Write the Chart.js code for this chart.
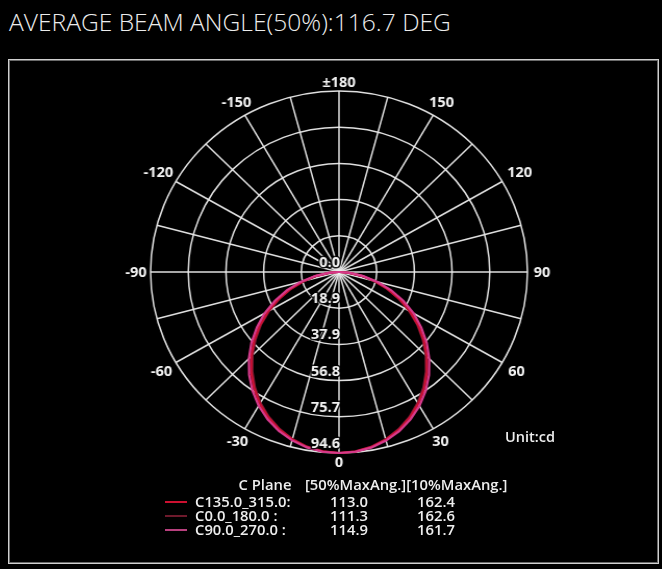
<!DOCTYPE html>
<html>
<head>
<meta charset="utf-8">
<script src="https://cdn.jsdelivr.net/npm/chart.js@4.4.1/dist/chart.umd.min.js"></script>
<style>
  html, body { margin: 0; padding: 0; background: #000; }
  #page { position: relative; width: 662px; height: 569px; overflow: hidden; background: #000; font-family: 'Open Sans', sans-serif; }
  #title { position: absolute; left: 9px; top: 5px; color: #ececec; font-size: 24.6px; font-weight: 300; white-space: nowrap; }
  #frame { position: absolute; left: 8px; top: 59px; width: 649px; height: 503px; border: 1px solid #d0d0d0; box-shadow: inset 0 0 0 1px #6a6a6a; }
  #wrap { position: absolute; left: 0; top: 0; width: 662px; height: 569px; transform-origin: 339px 272px; transform: scaleX(1.041); }
  .t { position: absolute; color: #eeeeee; font-weight: 600; font-size: 14.8px; line-height: 14px; white-space: nowrap; }
  .swatch { position: absolute; height: 1.5px; width: 22px; }
</style>
</head>
<body>
<div id="page">
  <div id="title">AVERAGE BEAM ANGLE(50%):116.7 DEG</div>
  <div id="frame"></div>
  <div id="wrap"><canvas id="polar" width="662" height="569"></canvas></div>
  <div class="t" style="left:505px; top:430px; font-size:14.5px;">Unit:cd</div>
  <div id="table"></div>
</div>
<script>
// gamma angles, clockwise from the top of the diagram (index 0 = ±180)
const gammaAngles = Array.from({ length: 72 }, (_, i) => 180 - i * 5);

// radial rings (cd)
const radialTicks = [0, 18.92, 37.84, 56.76, 75.68, 94.6];
const radialTickLabels = ['0.0', '18.9', '37.9', '56.8', '75.7', '94.6'];

// intensity, gamma 0..90 in 5 deg steps
const c135Right = [94.6, 94.2, 92.9, 90.7, 87.8, 84.1, 79.6, 74.5, 68.7, 62.4, 55.7, 48.6, 41.2, 33.6, 26.1, 18.7, 11.6, 5.1, 0.3];
const c135Left  = [94.6, 94.1, 92.8, 90.6, 87.6, 83.9, 79.5, 74.3, 68.6, 62.3, 55.6, 48.5, 41.1, 33.5, 26.0, 18.6, 11.5, 5.0, 0.3];
const c0Right   = [94.6, 94.1, 92.8, 90.5, 87.4, 83.6, 79.0, 73.8, 67.9, 61.6, 54.9, 48.0, 40.6, 33.1, 25.7, 18.4, 11.5, 5.1, 0.3];
const c0Left    = [94.6, 94.1, 92.7, 90.4, 87.3, 83.5, 78.9, 73.6, 67.7, 61.4, 54.7, 47.8, 40.4, 33.0, 25.6, 18.3, 11.4, 5.0, 0.3];
const c90Right  = [94.6, 94.3, 93.2, 91.2, 88.5, 85.0, 80.8, 75.9, 70.3, 64.1, 57.5, 50.4, 43.3, 35.6, 27.9, 20.1, 12.4, 5.5, 0.3];
const c90Left   = [94.6, 94.3, 93.1, 91.1, 88.4, 84.9, 80.7, 75.8, 70.2, 64.0, 57.4, 50.3, 43.2, 35.5, 27.8, 20.0, 12.3, 5.4, 0.3];

// legend table
const planeNames = ['C135.0_315.0:', 'C0.0_180.0  :', 'C90.0_270.0 :'];
const beam50 = ['113.0', '111.3', '114.9'];
const beam10 = ['162.4', '162.6', '161.7'];
const planeColors = ['#cc1030', '#6e1a2c', '#b8407e'];
const curveColors = ['#cc1034', '#7a1a30', '#d63a8c'];

function planeSeries(right, left) {
    return gammaAngles.map(g => {
        if (g >= 0 && g <= 90) return right[g / 5];
        if (g < 0 && g >= -90) return left[-g / 5];
        return 0;
    });
}

const gridColor = 'rgba(235,235,235,0.95)';

const polarLabels = {
    id: 'polarLabels',
    afterDatasetsDraw(chart) {
        const r = chart.scales.r;
        const ctx = chart.ctx;
        ctx.save();
        ctx.font = 'bold 14px "Open Sans", sans-serif';
        ctx.textBaseline = 'middle';

        // ring values, set just left of the 0 deg spoke
        ctx.textAlign = 'right';
        radialTicks.forEach((v, k) => {
            const y = r.yCenter + r.getDistanceFromCenterForValue(v) - 9;
            ctx.lineWidth = 3;
            ctx.strokeStyle = 'rgba(0,0,0,0.85)';
            ctx.strokeText(radialTickLabels[k], r.xCenter + 1, y);
            ctx.fillStyle = '#f2f2f2';
            ctx.fillText(radialTickLabels[k], r.xCenter + 1, y);
        });

        // gamma labels round the rim, every 30 deg
        ctx.textAlign = 'center';
        const rim = r.drawingArea;
        gammaAngles.forEach((g, i) => {
            if (g % 30 !== 0) return;
            const txt = g === 180 ? '\u00b1180' : String(g);
            const w = ctx.measureText(String(Math.abs(g))).width;
            const a = r.getIndexAngle(i);
            const s = Math.abs(Math.sin(a));
            const d = rim + 2 + s * 4 + s * w / 2 + Math.abs(Math.cos(a)) * 7;
            const p = r.getPointPosition(i, d);
            ctx.fillStyle = '#f2f2f2';
            ctx.fillText(txt, p.x, p.y + 1.5);
        });
        ctx.restore();
    }
};

new Chart(document.getElementById('polar').getContext('2d'), {
    type: 'radar',
    data: {
        labels: gammaAngles.map(String),
        datasets: [
            { label: planeNames[2], data: planeSeries(c90Right, c90Left), borderColor: curveColors[2] },
            { label: planeNames[0], data: planeSeries(c135Right, c135Left), borderColor: curveColors[0] },
            { label: planeNames[1], data: planeSeries(c0Right, c0Left), borderColor: curveColors[1] }
        ]
    },
    options: {
        responsive: false,
        animation: false,
        devicePixelRatio: 1,
        layout: { padding: { left: 158, top: 91, right: 142, bottom: 116 } },
        elements: {
            line: { borderWidth: 2.2, tension: 0, fill: false },
            point: { radius: 0, hoverRadius: 0 }
        },
        scales: {
            r: {
                min: 0,
                max: 94.6,
                startAngle: 0,
                ticks: { display: false, count: 6 },
                pointLabels: { display: false },
                grid: { circular: true, color: gridColor, lineWidth: 1.5 },
                angleLines: {
                    color: gridColor,
                    lineWidth: (c) => (c.index % 3 === 0 ? 1.5 : 0)
                }
            }
        },
        plugins: { legend: { display: false }, tooltip: { enabled: false } }
    },
    plugins: [polarLabels]
});

// C-plane table under the diagram
const table = document.getElementById('table');
function addText(txt, left, top, align) {
    const el = document.createElement('div');
    el.className = 't';
    el.textContent = txt;
    el.style.top = top + 'px';
    if (align === 'center') {
        el.style.left = (left - 60) + 'px';
        el.style.width = '120px';
        el.style.textAlign = 'center';
    } else {
        el.style.left = left + 'px';
    }
    table.appendChild(el);
}
addText('C Plane', 265, 477, 'center');
addText('[50%MaxAng.][10%MaxAng.]', 305, 477);
planeNames.forEach((name, k) => {
    const top = 494 + k * 14;
    const sw = document.createElement('div');
    sw.className = 'swatch';
    sw.style.left = '165px';
    sw.style.top = (top + 7) + 'px';
    sw.style.background = planeColors[k];
    table.appendChild(sw);
    addText(name, 195, top);
    addText(beam50[k], 349, top, 'center');
    addText(beam10[k], 436, top, 'center');
});
</script>
</body>
</html>
